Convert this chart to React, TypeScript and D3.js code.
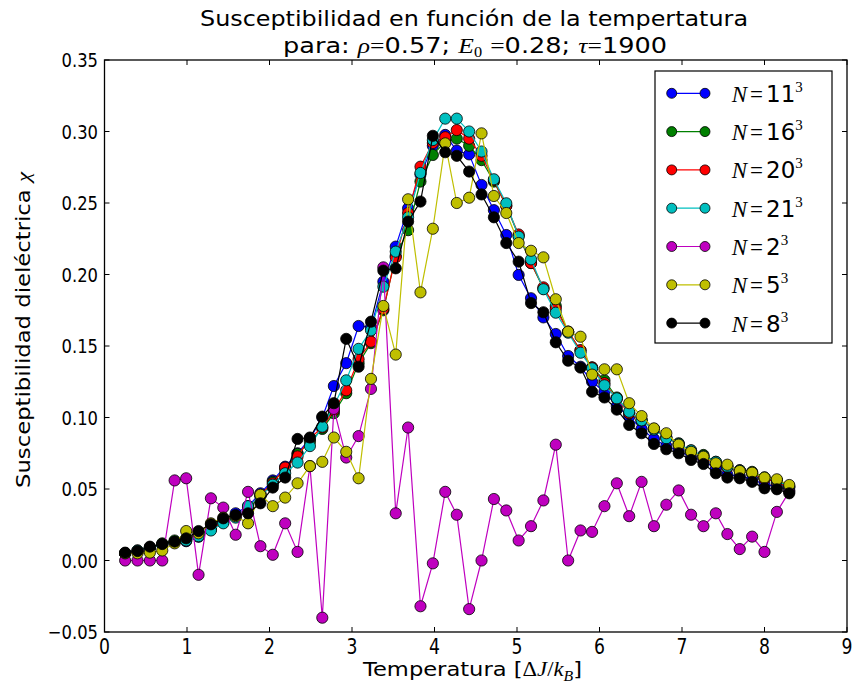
import React from 'react';
import * as d3 from 'd3';

const temperatures = [0.25,0.40,0.55,0.70,0.85,0.99,1.14,1.29,1.44,1.59,1.74,1.89,2.04,2.19,2.34,2.49,2.64,2.78,2.93,3.08,3.23,3.38,3.53,3.68,3.83,3.98,4.13,4.27,4.42,4.57,4.72,4.87,5.02,5.17,5.32,5.47,5.62,5.77,5.91,6.06,6.21,6.36,6.51,6.66,6.81,6.96,7.11,7.26,7.41,7.55,7.70,7.85,8.00,8.15,8.30];

const chiN11 = [0.005,0.006,0.009,0.011,0.013,0.0135,0.0166,0.023,0.028,0.033,
  0.038,0.047,0.056,0.0656,0.075,0.085,0.100,0.122,0.138,0.164,
  0.163,0.195,0.2195,0.2463,0.270,0.290,0.2976,0.2866,0.284,0.2626,
  0.245,0.2276,0.1997,0.1834,0.170,0.1584,0.143,0.1355,0.125,0.118,
  0.108,0.1006,0.092,0.085,0.080,0.077,0.072,0.070,0.064,0.060,
  0.059,0.057,0.053,0.052,0.049];

const chiN16 = [0.005,0.007,0.009,0.012,0.014,0.015,0.017,0.022,0.027,0.031,
  0.036,0.045,0.055,0.064,0.0745,0.083,0.092,0.103,0.117,0.138,
  0.152,0.175,0.213,0.231,0.265,0.2836,0.293,0.295,0.290,0.280,
  0.265,0.248,0.227,0.208,0.190,0.178,0.160,0.147,0.135,0.126,
  0.114,0.103,0.098,0.092,0.086,0.082,0.076,0.0738,0.069,0.066,
  0.063,0.062,0.058,0.056,0.052];

const chiN20 = [0.005,0.006,0.009,0.011,0.013,0.014,0.018,0.022,0.027,0.031,
  0.037,0.046,0.054,0.065,0.0728,0.0855,0.093,0.105,0.119,0.1407,
  0.153,0.176,0.212,0.243,0.2754,0.292,0.296,0.301,0.295,0.283,
  0.266,0.248,0.228,0.208,0.191,0.176,0.160,0.147,0.135,0.124,
  0.113,0.103,0.098,0.092,0.086,0.081,0.077,0.072,0.068,0.065,
  0.063,0.061,0.057,0.055,0.051];

const chiN21 = [0.005,0.007,0.009,0.011,0.013,0.014,0.017,0.021,0.026,0.030,
  0.038,0.045,0.053,0.061,0.0685,0.080,0.0936,0.108,0.126,0.148,
  0.161,0.1915,0.216,0.240,0.271,0.294,0.309,0.309,0.300,0.286,
  0.2666,0.2498,0.2265,0.2106,0.1897,0.1733,0.1593,0.1453,0.1344,0.1225,
  0.1134,0.104,0.098,0.0915,0.0855,0.0815,0.077,0.073,0.069,0.0656,
  0.063,0.061,0.058,0.056,0.0515];

const chiN2 = [0,0,0,0,0.056,0.0575,-0.010,0.0435,0.037,0.018,
  0.048,0.010,0.004,0.026,0.006,0.066,-0.040,0.106,0.072,0.087,
  0.120,0.205,0.033,0.093,-0.032,-0.002,0.048,0.032,-0.034,0.0,
  0.043,0.035,0.014,0.024,0.042,0.081,0.0,0.021,0.020,0.038,
  0.054,0.031,0.055,0.024,0.039,0.049,0.032,0.024,0.033,0.0185,
  0.008,0.0167,0.006,0.034,0.048];

const chiN5 = [0.005,0.005,0.0055,0.007,0.012,0.0206,0.019,0.026,0.030,0.031,
  0.026,0.046,0.038,0.044,0.054,0.066,0.069,0.086,0.076,0.0575,
  0.127,0.178,0.144,0.2526,0.1875,0.232,0.2917,0.250,0.2537,0.2987,
  0.2549,0.243,0.222,0.2166,0.212,0.1827,0.160,0.1565,0.130,0.1337,
  0.1337,0.110,0.101,0.0924,0.089,0.081,0.076,0.0726,0.068,0.067,
  0.0626,0.0614,0.058,0.0568,0.0528];

const chiN8 = [0.0055,0.0066,0.0097,0.0115,0.0132,0.0155,0.0206,0.0253,0.0295,0.0318,
  0.033,0.040,0.051,0.058,0.085,0.086,0.1006,0.110,0.155,0.1355,
  0.167,0.2027,0.2043,0.237,0.251,0.297,0.2855,0.283,0.272,0.256,
  0.240,0.222,0.209,0.180,0.1736,0.1526,0.1397,0.1349,0.118,0.114,
  0.1055,0.0948,0.089,0.0815,0.0778,0.075,0.0703,0.0675,0.061,0.058,
  0.0575,0.055,0.0505,0.0498,0.047];

const seriesBases = ['11', '16', '20', '21', '2', '5', '8'];
const seriesValues = [chiN11, chiN16, chiN20, chiN21, chiN2, chiN5, chiN8];
const seriesColors = ['#0000ff', '#008000', '#ff0000', '#00bfbf', '#bf00bf', '#bfbf00', '#000000'];

const xTicks = [0, 1, 2, 3, 4, 5, 6, 7, 8, 9];
const yTicks = [-0.05, 0, 0.05, 0.10, 0.15, 0.20, 0.25, 0.30, 0.35];

const W = 852;
const H = 690;
const L = 104.5, R = 847, T = 60, B = 632;

const SERIF = "'Liberation Serif', 'DejaVu Serif', serif";
const SANS = "'DejaVu Sans', sans-serif";

export default function App() {
  const x = d3.scaleLinear().domain([0, 9]).range([L, R]);
  const y = d3.scaleLinear().domain([-0.05, 0.35]).range([B, T]);
  const line = d3.line<number>().x((_, i) => x(temperatures[i])).y((d) => y(d));
  const fmt = d3.format('.2f');
  const tickLen = 5;

  const legendX = 655, legendY = 71, legendW = 177, legendH = 272;
  const rowY = (i: number) => 93.3 + i * 38.3;

  return (
    <svg width={W} height={H} style={{ position: 'absolute', left: 0, top: 0, background: '#fff' }}>
      <rect x={0} y={0} width={W} height={H} fill="#fff" />
      {/* series */}
      {seriesValues.map((vals, si) => (
        <g key={si}>
          <path d={line(vals) || ''} fill="none" stroke={seriesColors[si]} strokeWidth={1.2} />
          {vals.map((v, i) => (
            <circle key={i} cx={x(temperatures[i])} cy={y(v)} r={5.6} fill={seriesColors[si]} stroke="#000" strokeWidth={0.8} />
          ))}
        </g>
      ))}
      {/* frame */}
      <rect x={L} y={T} width={R - L} height={B - T} fill="none" stroke="#000" strokeWidth={1.3} />
      {xTicks.map((t) => (
        <g key={'x' + t}>
          <line x1={x(t)} x2={x(t)} y1={B} y2={B - tickLen} stroke="#000" strokeWidth={1} />
          <line x1={x(t)} x2={x(t)} y1={T} y2={T + tickLen} stroke="#000" strokeWidth={1} />
          <text x={x(t)} y={654} textAnchor="middle" fontFamily={SANS} fontSize={21} transform={`translate(${x(t)},0) scale(0.82,1) translate(${-x(t)},0)`}>{t}</text>
        </g>
      ))}
      {yTicks.map((t) => (
        <g key={'y' + t}>
          <line x1={L} x2={L + tickLen} y1={y(t)} y2={y(t)} stroke="#000" strokeWidth={1} />
          <line x1={R} x2={R - tickLen} y1={y(t)} y2={y(t)} stroke="#000" strokeWidth={1} />
          <text x={98} y={y(t) + 7.5} textAnchor="end" fontFamily={SANS} fontSize={20} transform={`translate(98,0) scale(0.82,1) translate(-98,0)`}>{fmt(t)}</text>
        </g>
      ))}
      {/* title */}
      <text x={474} y={26} textAnchor="middle" fontFamily={SANS} fontSize={22} textLength={548} lengthAdjust="spacingAndGlyphs">Susceptibilidad en función de la tempertatura</text>
      <text x={283} y={52.5} fontFamily={SANS} fontSize={22} textLength={384} lengthAdjust="spacingAndGlyphs">
        <tspan>para: </tspan>
        <tspan fontFamily={SERIF} fontStyle="italic">ρ</tspan>
        <tspan fontFamily={SERIF}>=</tspan>
        <tspan>0.57; </tspan>
        <tspan fontFamily={SERIF} fontStyle="italic">E</tspan>
        <tspan fontFamily={SERIF} fontSize={14} dy={4}>0</tspan>
        <tspan dy={-4}> </tspan>
        <tspan fontFamily={SERIF}>=</tspan>
        <tspan>0.28; </tspan>
        <tspan fontFamily={SERIF} fontStyle="italic">τ</tspan>
        <tspan fontFamily={SERIF}>=</tspan>
        <tspan>1900</tspan>
      </text>
      {/* axis labels */}
      <text x={363} y={676} fontFamily={SANS} fontSize={20} textLength={219} lengthAdjust="spacingAndGlyphs">
        <tspan>Temperatura [</tspan>
        <tspan fontFamily={SERIF}>Δ</tspan>
        <tspan fontFamily={SERIF} fontStyle="italic">J</tspan>
        <tspan fontFamily={SERIF}>/</tspan>
        <tspan fontFamily={SERIF} fontStyle="italic">k</tspan>
        <tspan fontFamily={SERIF} fontStyle="italic" fontSize={14} dy={5}>B</tspan>
        <tspan dy={-5}>]</tspan>
      </text>
      <text transform="translate(30,488) rotate(-90)" x={0} y={0} fontFamily={SANS} fontSize={19} textLength={316} lengthAdjust="spacingAndGlyphs">
        <tspan>Susceptibilidad dieléctrica </tspan>
        <tspan fontFamily={SERIF} fontStyle="italic">χ</tspan>
      </text>
      {/* legend */}
      <rect x={legendX} y={legendY} width={legendW} height={legendH} fill="#fff" stroke="#000" strokeWidth={1.2} />
      {seriesBases.map((b, i) => (
        <g key={'l' + i}>
          <line x1={671.7} x2={705} y1={rowY(i)} y2={rowY(i)} stroke={seriesColors[i]} strokeWidth={1.2} />
          <circle cx={671.7} cy={rowY(i)} r={5} fill={seriesColors[i]} stroke="#000" strokeWidth={0.8} />
          <circle cx={705} cy={rowY(i)} r={5} fill={seriesColors[i]} stroke="#000" strokeWidth={0.8} />
          <text x={731.7} y={rowY(i) + 8.5} fontSize={23}>
            <tspan fontFamily={SERIF} fontStyle="italic">N</tspan>
            <tspan fontFamily={SERIF} dx={3}>=</tspan>
            <tspan fontFamily={SANS} dx={3}>{b}</tspan>
            <tspan fontFamily={SERIF} fontSize={15} dy={-10}>3</tspan>
          </text>
        </g>
      ))}
    </svg>
  );
}
